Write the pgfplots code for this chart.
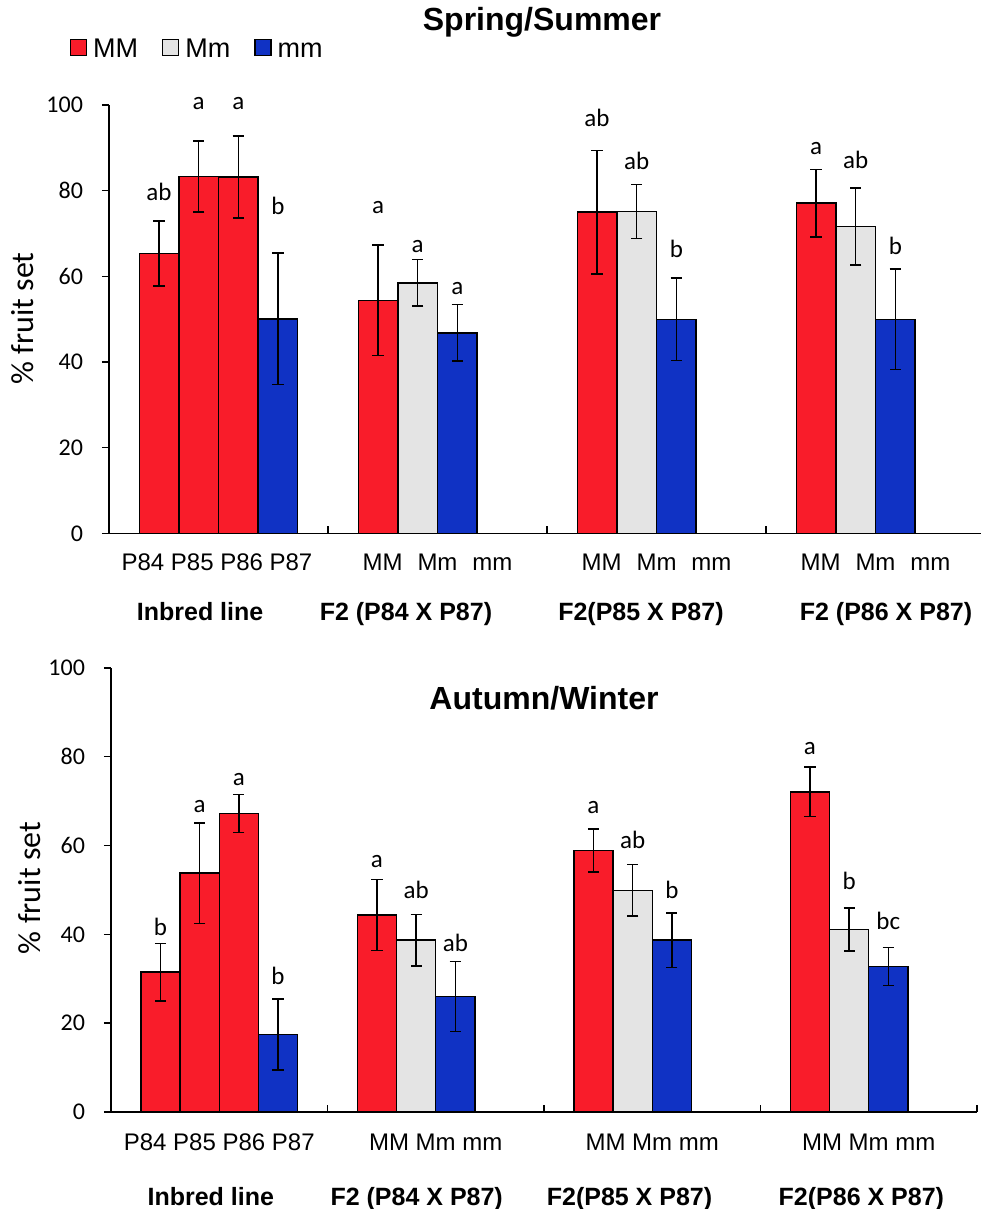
\documentclass[border=0pt]{standalone}
\usepackage{fontspec}
\setmainfont{Carlito}
\newfontfamily\arial{Liberation Sans}
\usepackage{pgfplots}
\pgfplotsset{compat=1.18}
\definecolor{mred}{RGB}{249,28,42}
\definecolor{mgray}{RGB}{228,228,228}
\definecolor{mblue}{RGB}{16,50,196}
\pgfplotsset{
  sqlegend/.style={legend image code/.code={\draw[##1,line width=0.6pt] (0pt,-4pt) rectangle (8pt,4pt);}},
  fsbar/.style={ybar, bar width=0.181, bar shift=0pt, draw=black, line width=0.7pt,
    error bars/y dir=both, error bars/y explicit,
    error bars/error bar style={line width=0.75pt, black},
    error bars/error mark options={rotate=90, mark size=2.8pt, line width=0.75pt, black},
    sqlegend},
  fsaxis/.style={
    scale only axis, xmin=0, xmax=4, ymin=0, ymax=100,
    axis x line=bottom, axis y line=left, axis line style={-, line width=0.7pt, black},
    ytick={0,20,...,100}, xtick={1,2,3,4}, xticklabels={},
    tick align=outside, major tick length=3.5pt,
    tick style={line width=0.7pt, black},
    x tick style={yshift=3.5pt},
    /pgf/number format/assume math mode=true,
    yticklabel style={font=\fontsize{12}{14}\selectfont, xshift=-6pt},
    clip=false,
  },
}
\tikzset{
  lt/.style={font=\fontsize{12.5}{14}\selectfont, anchor=base, inner sep=0pt},
  tl/.style={font=\arial\fontsize{12}{14}\selectfont, anchor=base, inner sep=0pt},
  gl/.style={font=\arial\bfseries\fontsize{12.5}{15}\selectfont, anchor=base, inner sep=0pt},
}
\begin{document}
\begin{tikzpicture}
\useasboundingbox (0,0) rectangle (490pt,604.5pt);
% ---------------- Spring/Summer ----------------
\begin{axis}[fsaxis, at={(54.5pt,337.75pt)}, anchor=south west, width=438pt, height=214.25pt,
  legend columns=3,
  legend style={draw=none, fill=none, at={(axis description cs:-0.045,1.134)}, anchor=west,
    font=\arial\fontsize{13.5}{16}\selectfont, inner sep=0pt,
    nodes={inner sep=0pt, text height=9.7pt, text depth=0pt},
    /tikz/every odd column/.append style={column sep=3pt},
    /tikz/every even column/.append style={column sep=12pt}},
]
\addplot[fsbar, fill=mred] coordinates {
 (0.2285,65.3) +- (0,7.6)
 (0.4095,83.3) +- (0,8.3)
 (0.5905,83.2) +- (0,9.6)
 (1.2285,54.4) +- (0,12.9)
 (2.2285,75.0) +- (0,14.4)
 (3.2285,77.1) +- (0,7.9)
};
\addlegendentry{MM}
\addplot[fsbar, fill=mgray] coordinates {
 (1.4095,58.5) +- (0,5.4)
 (2.4095,75.2) +- (0,6.3)
 (3.4095,71.6) +- (0,9.0)
};
\addlegendentry{Mm}
\addplot[fsbar, fill=mblue] coordinates {
 (0.7715,50.1) +- (0,15.3)
 (1.5905,46.8) +- (0,6.6)
 (2.5905,50.0) +- (0,9.6)
 (3.5905,50.0) +- (0,11.7)
};
\addlegendentry{mm}
% letters
\node[lt] at (axis cs:0.2285,77.8) {ab};
\node[lt] at (axis cs:0.4095,99.0) {a};
\node[lt] at (axis cs:0.5905,99.0) {a};
\node[lt] at (axis cs:0.7715,74.5) {b};
\node[lt] at (axis cs:1.2285,74.7) {a};
\node[lt] at (axis cs:1.4095,65.6) {a};
\node[lt] at (axis cs:1.5905,55.7) {a};
\node[lt] at (axis cs:2.2285,94.9) {ab};
\node[lt] at (axis cs:2.4095,85.0) {ab};
\node[lt] at (axis cs:2.5905,64.5) {b};
\node[lt] at (axis cs:3.2285,88.5) {a};
\node[lt] at (axis cs:3.4095,85.2) {ab};
\node[lt] at (axis cs:3.5905,65.0) {b};
% category labels
\node[tl] at ([yshift=-18.75pt]axis cs:0.493,0) {P84 P85 P86 P87};
\node[tl] at ([yshift=-18.75pt]axis cs:1.5,0) {MM\hspace{7.5pt}Mm\hspace{7.5pt}mm};
\node[tl] at ([yshift=-18.75pt]axis cs:2.5,0) {MM\hspace{7.5pt}Mm\hspace{7.5pt}mm};
\node[tl] at ([yshift=-18.75pt]axis cs:3.5,0) {MM\hspace{7.5pt}Mm\hspace{7.5pt}mm};
\node[gl] at ([yshift=-43.75pt]axis cs:0.416,0) {Inbred line};
\node[gl] at ([yshift=-43.75pt]axis cs:1.356,0) {F2 (P84 X P87)};
\node[gl] at ([yshift=-43.75pt]axis cs:2.429,0) {F2(P85 X P87)};
\node[gl] at ([yshift=-43.75pt]axis cs:3.548,0) {F2 (P86 X P87)};
\end{axis}
% ---------------- Autumn/Winter ----------------
\begin{axis}[fsaxis, at={(55.5pt,48.5pt)}, anchor=south west, width=433pt, height=222pt]
\addplot[fsbar, fill=mred] coordinates {
 (0.2285,31.5) +- (0,6.5)
 (0.4095,53.8) +- (0,11.3)
 (0.5905,67.2) +- (0,4.3)
 (1.2285,44.4) +- (0,8.0)
 (2.2285,58.9) +- (0,4.8)
 (3.2285,72.1) +- (0,5.6)
};
\addplot[fsbar, fill=mgray] coordinates {
 (1.4095,38.7) +- (0,5.8)
 (2.4095,49.9) +- (0,5.8)
 (3.4095,41.1) +- (0,4.8)
};
\addplot[fsbar, fill=mblue] coordinates {
 (0.7715,17.5) +- (0,8.0)
 (1.5905,26.0) +- (0,7.9)
 (2.5905,38.7) +- (0,6.1)
 (3.5905,32.8) +- (0,4.3)
};
\node[lt] at (axis cs:0.2285,39.7) {b};
\node[lt] at (axis cs:0.4095,67.4) {a};
\node[lt] at (axis cs:0.5905,73.6) {a};
\node[lt] at (axis cs:0.7715,28.7) {b};
\node[lt] at (axis cs:1.2285,55.0) {a};
\node[lt] at (axis cs:1.4095,48.1) {ab};
\node[lt] at (axis cs:1.5905,36.1) {ab};
\node[lt] at (axis cs:2.2285,67.3) {a};
\node[lt] at (axis cs:2.4095,59.4) {ab};
\node[lt] at (axis cs:2.5905,48.1) {b};
\node[lt] at (axis cs:3.2285,80.6) {a};
\node[lt] at (axis cs:3.4095,50.0) {b};
\node[lt] at (axis cs:3.5905,41.2) {bc};
\node[tl] at ([yshift=-19.5pt]axis cs:0.5,0) {P84 P85 P86 P87};
\node[tl] at ([yshift=-19.5pt]axis cs:1.5,0) {MM Mm mm};
\node[tl] at ([yshift=-19.5pt]axis cs:2.5,0) {MM Mm mm};
\node[tl] at ([yshift=-19.5pt]axis cs:3.5,0) {MM Mm mm};
\node[gl] at ([yshift=-46.5pt]axis cs:0.461,0) {Inbred line};
\node[gl] at ([yshift=-46.5pt]axis cs:1.412,0) {F2 (P84 X P87)};
\node[gl] at ([yshift=-46.5pt]axis cs:2.395,0) {F2(P85 X P87)};
\node[gl] at ([yshift=-46.5pt]axis cs:3.466,0) {F2(P86 X P87)};
\node[font=\arial\bfseries\fontsize{16}{19}\selectfont] at (axis cs:2.0,93.1) {Autumn/Winter};
\end{axis}
% titles and axis labels
\node[font=\arial\bfseries\fontsize{16}{19}\selectfont] at (271pt,593.5pt) {Spring/Summer};
\node[font=\fontsize{16}{19}\selectfont, rotate=90] at (11.5pt,445.25pt) {\% fruit set};
\node[font=\fontsize{16}{19}\selectfont, rotate=90] at (15pt,160.5pt) {\% fruit set};
\end{tikzpicture}
\end{document}
